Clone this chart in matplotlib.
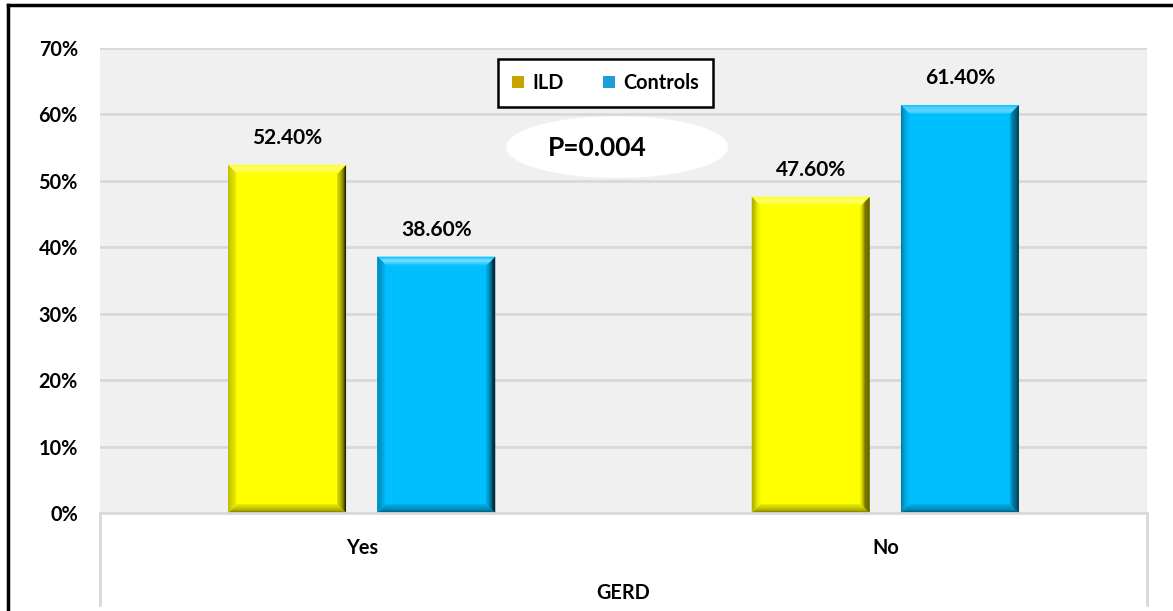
import matplotlib
matplotlib.use("Agg")
import matplotlib.pyplot as plt
import numpy as np
from matplotlib.patches import Polygon, Ellipse, Patch
from matplotlib.lines import Line2D
from matplotlib.colors import to_rgb

# ---- data ----
categories = ["Yes", "No"]
series_names = ["ILD", "Controls"]
ild_values = [52.4, 47.6]
control_values = [38.6, 61.4]
y_ticks = [0, 10, 20, 30, 40, 50, 60, 70]
y_tick_labels = ["0%", "10%", "20%", "30%", "40%", "50%", "60%", "70%"]
axis_title = "GERD"
p_text = "P=0.004"

bar_colors = ["#ffff00", "#00bfff"]
legend_colors = ["#c9a400", "#1c9fd6"]

plt.rcParams["font.family"] = ["Lato", "DejaVu Sans"]
plt.rcParams["font.weight"] = "bold"

W, H = 1173, 611
fig = plt.figure(figsize=(W / 100, H / 100), dpi=100)
fig.patch.set_facecolor("white")

# plot area
left, right, top, bottom = 100, 1147, 48, 513
ax = fig.add_axes([left / W, 1 - bottom / H, (right - left) / W, (bottom - top) / H])
ax.set_facecolor("#f0f0f0")
ax.set_xlim(-0.5, 1.5)
ax.set_ylim(0, 70)
for s in ax.spines.values():
    s.set_visible(False)
ax.set_yticks(y_ticks)
ax.set_yticklabels(y_tick_labels, fontsize=14.3, fontweight="bold")
ax.yaxis.grid(True, color="#d9d9d9", linewidth=2)
ax.set_axisbelow(True)
ax.tick_params(axis="y", length=0, pad=16)
ax.set_xticks(range(len(categories)))
ax.set_xticklabels(categories, fontsize=14.3, fontweight="bold")
ax.tick_params(axis="x", length=0, pad=18)
ax.set_xlabel(axis_title, fontsize=14.3, fontweight="bold", labelpad=18)

x = np.arange(len(categories))
bw = 0.225
off = 0.1425
bars_ild = ax.bar(x - off, ild_values, bw, color=bar_colors[0], zorder=3)
bars_ctl = ax.bar(x + off, control_values, bw, color=bar_colors[1], zorder=3)

fig.canvas.draw()
p0 = ax.transData.transform((0, 0))
p1 = ax.transData.transform((1, 1))
px_x = p1[0] - p0[0]
px_y = p1[1] - p0[1]


def blend(c, target, t):
    c = np.array(to_rgb(c))
    tg = np.array(to_rgb(target))
    return tuple(c * (1 - t) + tg * t)


def bevel(bar, base, size_px=9, n=8):
    x0 = bar.get_x()
    x1 = x0 + bar.get_width()
    y0 = 0
    y1 = bar.get_height()
    bx = size_px / px_x
    by = size_px / px_y
    for i in range(n):
        a = i / n
        b = (i + 1) / n
        t = (i + 0.5) / n  # 0 at outer edge, 1 at inner
        # right side: dark at edge
        ax.add_patch(Polygon([(x1 - a * bx, y0 + a * by), (x1 - a * bx, y1 - a * by),
                              (x1 - b * bx, y1 - b * by), (x1 - b * bx, y0 + b * by)],
                             closed=True, color=blend(base, "black", 0.8 * (1 - t) + 0.1), lw=0, zorder=4))
        # bottom: dark
        ax.add_patch(Polygon([(x0 + a * bx, y0 + a * by), (x1 - a * bx, y0 + a * by),
                              (x1 - b * bx, y0 + b * by), (x0 + b * bx, y0 + b * by)],
                             closed=True, color=blend(base, "black", 0.55 * (1 - t) + 0.05), lw=0, zorder=4))
        # top: highlight in the middle of the band
        hl = 0.45 * np.sin(np.pi * t)
        ax.add_patch(Polygon([(x0 + a * bx, y1 - a * by), (x1 - a * bx, y1 - a * by),
                              (x1 - b * bx, y1 - b * by), (x0 + b * bx, y1 - b * by)],
                             closed=True, color=blend(base, "white", hl), lw=0, zorder=4))
        # left: slightly darker at edge
        ax.add_patch(Polygon([(x0 + a * bx, y0 + a * by), (x0 + a * bx, y1 - a * by),
                              (x0 + b * bx, y1 - b * by), (x0 + b * bx, y0 + b * by)],
                             closed=True, color=blend(base, "black", 0.35 * (1 - t)), lw=0, zorder=4))


for bar in bars_ild:
    bevel(bar, bar_colors[0])
for bar in bars_ctl:
    bevel(bar, bar_colors[1])

for bars, vals in ((bars_ild, ild_values), (bars_ctl, control_values)):
    for bar, v in zip(bars, vals):
        ax.annotate(f"{v:.2f}%", (bar.get_x() + bar.get_width() / 2, v),
                    xytext=(0, 12), textcoords="offset points", ha="center", va="bottom",
                    fontsize=15, fontweight="bold", zorder=5)

# p-value bubble
ax.add_patch(Ellipse((0.494, 0.787), 0.212, 0.133, transform=ax.transAxes,
                     facecolor="white", edgecolor="none", zorder=5))
ax.text(0.475, 0.785, p_text, transform=ax.transAxes, ha="center", va="center",
        fontsize=19, fontweight="bold", zorder=6)

handles = [Patch(facecolor=c, edgecolor="none") for c in legend_colors]
leg = ax.legend(handles, series_names, loc="center", bbox_to_anchor=(0.483, 0.925),
                ncol=2, frameon=True, fancybox=False, framealpha=1, edgecolor="black",
                prop={"weight": "bold", "size": 14.3}, handlelength=0.6, handleheight=0.6,
                handletextpad=0.4, columnspacing=2.0, borderpad=0.72, borderaxespad=0)
leg.get_frame().set_linewidth(1.8)
leg.set_zorder(6)

# category band below the plot area
band_bottom = 605
grey = "#d9d9d9"
fig.add_artist(Line2D([left / W, right / W], [1 - bottom / H] * 2, color=grey, lw=2))
fig.add_artist(Line2D([left / W] * 2, [1 - bottom / H, 1 - band_bottom / H], color=grey, lw=2))
fig.add_artist(Line2D([right / W] * 2, [1 - bottom / H, 1 - band_bottom / H], color=grey, lw=2))

# outer frame (top and left)
fig.add_artist(Line2D([8 / W, 1.0], [1 - 5 / H] * 2, color="black", lw=2.5))
fig.add_artist(Line2D([8 / W] * 2, [1 - 5 / H, 0], color="black", lw=2.5))

fig.savefig("out.png", dpi=100)
